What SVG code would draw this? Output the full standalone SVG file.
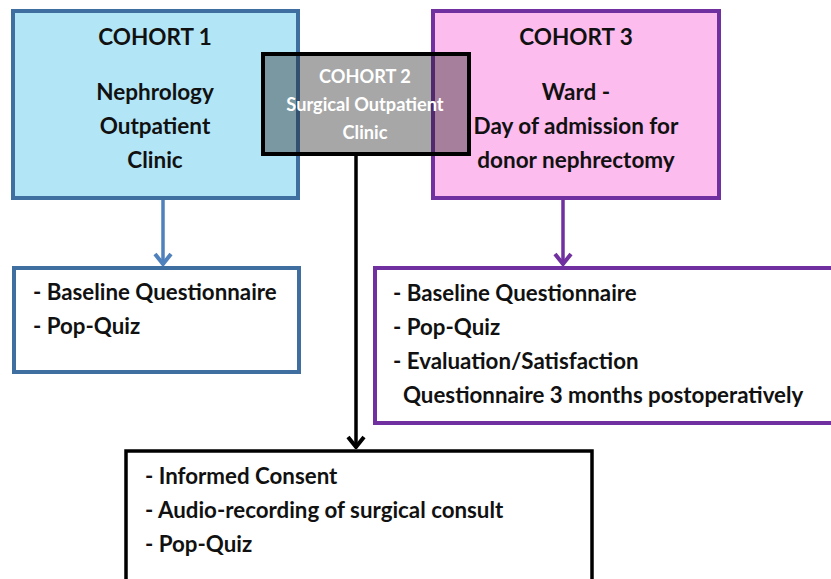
<svg xmlns="http://www.w3.org/2000/svg" width="831" height="579" viewBox="0 0 831 579">
<style>
text{font-family:Lato,"Open Sans","Liberation Sans",sans-serif;fill:#111}
.t{font-weight:700;font-size:22.5px;text-anchor:middle}
.w{font-weight:700;font-size:18.2px;text-anchor:middle;fill:#fff}
.l{font-weight:700;font-size:22.3px}
</style>
<defs>
<marker id="ab" viewBox="0 0 20 14" refX="10" refY="13" markerWidth="20" markerHeight="14" markerUnits="userSpaceOnUse">
<polyline points="2,2 10,12 18,2" fill="none" stroke="#4F81BD" stroke-width="4"/>
</marker>
<marker id="ap" viewBox="0 0 20 14" refX="10" refY="13" markerWidth="20" markerHeight="14" markerUnits="userSpaceOnUse">
<polyline points="2,2 10,12 18,2" fill="none" stroke="#7030A0" stroke-width="4"/>
</marker>
<marker id="ak" viewBox="0 0 20 14" refX="10" refY="13" markerWidth="20" markerHeight="14" markerUnits="userSpaceOnUse">
<polyline points="2,2 10,12 18,2" fill="none" stroke="#000" stroke-width="4"/>
</marker>
</defs>
<g id="cohort1">
<rect x="13" y="11" width="285" height="187" fill="#B2E6F7" stroke="#3F6FA0" stroke-width="4"/>
<text class="t" x="155" y="45">COHORT 1</text>
<text class="t" x="155" y="100">Nephrology</text>
<text class="t" x="155" y="134">Outpatient</text>
<text class="t" x="155" y="168">Clinic</text>
</g>
<g id="cohort3">
<rect x="433" y="11" width="286" height="187" fill="#FDBCEE" stroke="#7030A0" stroke-width="4"/>
<text class="t" x="576" y="45">COHORT 3</text>
<text class="t" x="576" y="100">Ward -</text>
<text class="t" x="576" y="134">Day of admission for</text>
<text class="t" x="576" y="168">donor nephrectomy</text>
</g>
<g id="cohort2">
<rect x="263" y="54" width="206" height="100" fill="#232323" fill-opacity="0.4" stroke="#000" stroke-width="4"/>
<text class="w" x="365" y="83">COHORT 2</text>
<text class="w" x="365" y="111">Surgical Outpatient</text>
<text class="w" x="365" y="139">Clinic</text>
</g>
<g id="connectors" fill="none" stroke-width="3.5">
<line x1="163" y1="200" x2="163" y2="265" stroke="#4F81BD" marker-end="url(#ab)"/>
<line x1="563" y1="200" x2="563" y2="265" stroke="#7030A0" marker-end="url(#ap)"/>
<line x1="356" y1="156" x2="356" y2="448" stroke="#000" marker-end="url(#ak)"/>
</g>
<g id="list1">
<rect x="14" y="268" width="285" height="104" fill="#fff" stroke="#3F6FA0" stroke-width="4"/>
<text class="l" x="33" y="300">- Baseline Questionnaire</text>
<text class="l" x="33" y="334">- Pop-Quiz</text>
</g>
<g id="list3">
<rect x="375" y="268" width="462" height="155" fill="#fff" stroke="#7030A0" stroke-width="4"/>
<text class="l" x="393" y="301">- Baseline Questionnaire</text>
<text class="l" x="393" y="335">- Pop-Quiz</text>
<text class="l" x="393" y="369">- Evaluation/Satisfaction</text>
<text class="l" x="403" y="403">Questionnaire 3 months postoperatively</text>
</g>
<g id="list2">
<rect x="126" y="451" width="466" height="140" fill="#fff" stroke="#000" stroke-width="3.5"/>
<text class="l" x="145" y="484">- Informed Consent</text>
<text class="l" x="145" y="518">- Audio-recording of surgical consult</text>
<text class="l" x="145" y="552">- Pop-Quiz</text>
</g>
</svg>
